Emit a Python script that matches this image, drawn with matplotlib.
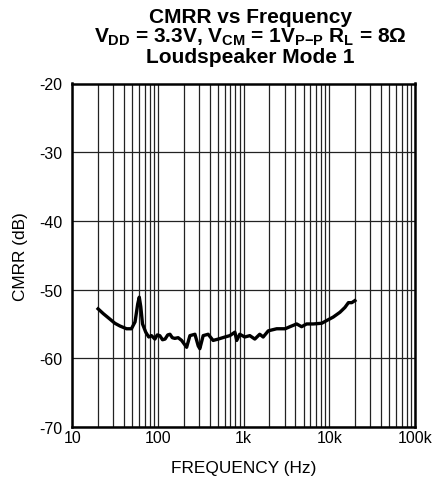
import numpy as np
import matplotlib
matplotlib.use("Agg")
import matplotlib.pyplot as plt
from matplotlib.ticker import FixedLocator, NullFormatter

plt.rcParams['font.family'] = ['Liberation Sans', 'DejaVu Sans']
plt.rcParams['mathtext.fontset'] = 'custom'
plt.rcParams['mathtext.rm'] = 'Liberation Sans:bold'
plt.rcParams['mathtext.it'] = 'Liberation Sans:bold'
plt.rcParams['mathtext.bf'] = 'Liberation Sans:bold'
plt.rcParams['axes.unicode_minus'] = False

freq_hz = [20, 23, 27.5, 31.4, 36, 43, 49, 54, 58, 60.5, 63, 66, 72, 78, 84, 92, 98, 105, 113, 121,
           130, 138, 147, 157, 172,
           189, 216, 236, 270, 295, 308, 337, 385, 440, 505, 605, 690, 790, 830, 900, 1030,
           1180, 1350, 1540, 1690, 1940, 2430, 3050, 3470, 4160, 4750, 5430, 6500, 8150,
           9330, 11100, 13300, 15200, 16700, 18300, 19900]
cmrr_db = [-52.8, -53.5, -54.3, -54.9, -55.3, -55.7, -55.7, -54.7, -52.1, -51.1, -52.5, -55.0,
           -56.2, -56.9, -56.7, -57.2, -56.6, -56.7, -57.3, -57.2,
           -56.6, -56.5, -57.0, -57.1, -57.0,
           -57.4, -58.4, -56.7, -56.5, -58.2, -58.6, -56.7, -56.5, -57.4, -57.2, -56.9, -56.7,
           -56.2, -57.4, -56.5, -56.9,
           -56.7, -57.2, -56.5, -56.9, -56.0, -55.7, -55.7, -55.4, -55.0, -55.4, -55.0, -55.0,
           -54.9, -54.5, -54.0, -53.3, -52.6, -51.9, -51.9, -51.6]

x_ticks = [10, 100, 1000, 10000, 100000]
x_ticklabels = ['10', '100', '1k', '10k', '100k']
y_ticks = [-70, -60, -50, -40, -30, -20]

fig = plt.figure(figsize=(4.37, 4.85), dpi=100)
ax = fig.add_axes([72.3/437, 1-428/485, (415-72.3)/437, (428-84.5)/485])

ax.semilogx(freq_hz, cmrr_db, color='black', lw=2.4, solid_joinstyle='round', zorder=3)
ax.set_xlim(10, 100000)
ax.set_ylim(-70, -20)

ax.set_xticks(x_ticks)
ax.set_xticklabels(x_ticklabels)
minor = [m * d for d in [10, 100, 1000, 10000] for m in range(2, 10)]
ax.xaxis.set_minor_locator(FixedLocator(minor))
ax.xaxis.set_minor_formatter(NullFormatter())
ax.set_yticks(y_ticks)

ax.grid(True, which='major', color='#222222', lw=0.9)
ax.grid(True, which='minor', axis='x', color='#222222', lw=0.9)
ax.tick_params(which='both', length=0)
ax.tick_params(axis='x', labelsize=11.5, pad=2)
ax.tick_params(axis='y', labelsize=11.5, pad=7)
for s in ax.spines.values():
    s.set_linewidth(1.8)
    s.set_zorder(4)

ax.set_xlabel('FREQUENCY (Hz)', fontsize=12.4, labelpad=11)
ax.set_ylabel('CMRR (dB)', fontsize=12.4, labelpad=8)

tfs = 15
cx = 250/437
fig.text(cx, 1-22.7/485, 'CMRR vs Frequency', ha='center', va='baseline',
         fontsize=tfs, fontweight='bold')
fig.text(cx, 1-43/485,
         r'$V_{DD}$ = 3.3V, $V_{CM}$ = 1$V_{P{-}P}$ $R_L$ = 8Ω',
         ha='center', va='baseline', fontsize=tfs, fontweight='bold')
fig.text(cx, 1-63.3/485, 'Loudspeaker Mode 1', ha='center', va='baseline',
         fontsize=tfs, fontweight='bold')

fig.savefig('out.png', dpi=100)
